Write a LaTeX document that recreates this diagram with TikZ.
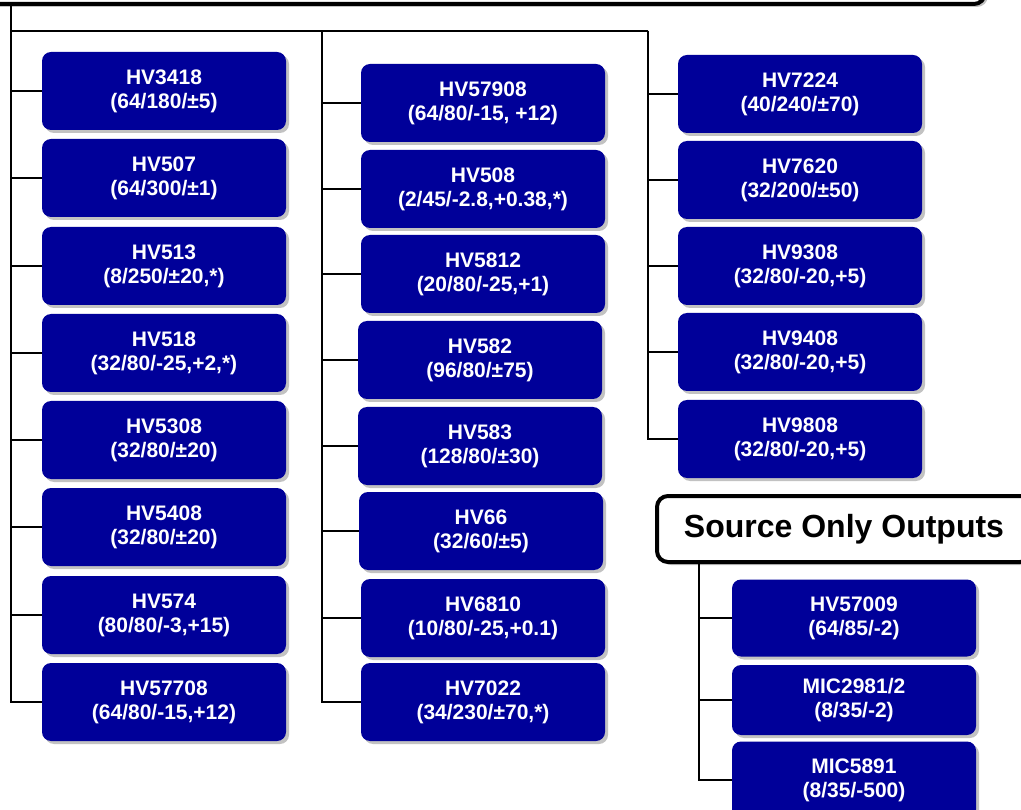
\documentclass[tikz,border=0pt]{standalone}
\usepackage{fontspec}
\setmainfont{Liberation Sans}
\usepackage{xcolor}
\usepackage{tikz}
\usetikzlibrary{shadows}
\usetikzlibrary{positioning}
\definecolor{chipblue}{RGB}{0,0,153}

\begin{document}
\begin{tikzpicture}[x=1pt,y=-1pt,
  part/.style={fill=chipblue,rounded corners=9pt,minimum width=244pt,minimum height=78pt,
    text=white,align=center,font=\bfseries\fontsize{21}{24}\selectfont,inner sep=0pt,
    drop shadow={shadow xshift=3pt,shadow yshift=-3pt,fill=black!60,opacity=.4}},
  group/.style={draw=black,line width=4pt,fill=white,rounded corners=11pt,
    font=\bfseries\fontsize{32}{36}\selectfont,inner sep=0pt,
    drop shadow={shadow xshift=3pt,shadow yshift=-3pt,fill=black!60,opacity=.4}},
  wire/.style={line width=1.6pt}
]
\useasboundingbox (0,0) rectangle (1021,810);
% Header (cut off at the top)
\node[group,minimum width=1010pt,minimum height=68pt] (head) at (480,-30) {};
% Column 1
\node[part] (hv3418)  at (164,91)  {HV3418\\(64/180/\textpm5)};
\node[part] (hv507)   at (164,178) {HV507\\(64/300/\textpm1)};
\node[part] (hv513)   at (164,266) {HV513\\(8/250/\textpm20,*)};
\node[part] (hv518)   at (164,353) {HV518\\(32/80/-25,+2,*)};
\node[part] (hv5308)  at (164,440) {HV5308\\(32/80/\textpm20)};
\node[part] (hv5408)  at (164,527) {HV5408\\(32/80/\textpm20)};
\node[part] (hv574)   at (164,615) {HV574\\(80/80/-3,+15)};
\node[part] (hv57708) at (164,702) {HV57708\\(64/80/-15,+12)};
% Column 2
\node[part] (hv57908) at (483,103) {HV57908\\(64/80/-15, +12)};
\node[part] (hv508)   at (483,189) {HV508\\(2/45/-2.8,+0.38,*)};
\node[part] (hv5812)  at (483,274) {HV5812\\(20/80/-25,+1)};
\node[part] (hv582)   at (480,360) {HV582\\(96/80/\textpm75)};
\node[part] (hv583)   at (480,446) {HV583\\(128/80/\textpm30)};
\node[part] (hv66)    at (481,531) {HV66\\(32/60/\textpm5)};
\node[part] (hv6810)  at (483,618) {HV6810\\(10/80/-25,+0.1)};
\node[part] (hv7022)  at (483,702) {HV7022\\(34/230/\textpm70,*)};
% Column 3
\node[part] (hv7224)  at (800,94)  {HV7224\\(40/240/\textpm70)};
\node[part] (hv7620)  at (800,180) {HV7620\\(32/200/\textpm50)};
\node[part] (hv9308)  at (800,266) {HV9308\\(32/80/-20,+5)};
\node[part] (hv9408)  at (800,352) {HV9408\\(32/80/-20,+5)};
\node[part] (hv9808)  at (800,439) {HV9808\\(32/80/-20,+5)};
% Source only group
\node[group,minimum width=374pt,minimum height=66pt] (src) at (844,529) {Source Only Outputs};
\node[part,minimum height=77pt] (hv57009) at (854,618) {HV57009\\(64/85/-2)};
\node[part,minimum height=70pt] (mic2981) at (854,700) {MIC2981/2\\(8/35/-2)};
\node[part,minimum height=77pt] (mic5891) at (854,780) {MIC5891\\(8/35/-500)};

% Wiring
\coordinate (root) at (11,4);
\coordinate (br)   at (11,31);
\coordinate (c2)   at (322,31);
\coordinate (c3)   at (648,31);
\coordinate (s0)   at (699,562);
\draw[wire] (br) -- (c3);
\draw[wire] (root) |- (hv3418.west); \draw[wire] (root) |- (hv507.west);
\draw[wire] (root) |- (hv513.west);  \draw[wire] (root) |- (hv518.west);
\draw[wire] (root) |- (hv5308.west); \draw[wire] (root) |- (hv5408.west);
\draw[wire] (root) |- (hv574.west);  \draw[wire] (root) |- (hv57708.west);
\draw[wire] (c2) |- (hv57908.west); \draw[wire] (c2) |- (hv508.west);
\draw[wire] (c2) |- (hv5812.west);  \draw[wire] (c2) |- (hv582.west);
\draw[wire] (c2) |- (hv583.west);   \draw[wire] (c2) |- (hv66.west);
\draw[wire] (c2) |- (hv6810.west);  \draw[wire] (c2) |- (hv7022.west);
\draw[wire] (c3) |- (hv7224.west); \draw[wire] (c3) |- (hv7620.west);
\draw[wire] (c3) |- (hv9308.west); \draw[wire] (c3) |- (hv9408.west);
\draw[wire] (c3) |- (hv9808.west);
\draw[wire] (s0) |- (hv57009.west); \draw[wire] (s0) |- (mic2981.west);
\draw[wire] (s0) |- (mic5891.west);
\end{tikzpicture}
\end{document}
